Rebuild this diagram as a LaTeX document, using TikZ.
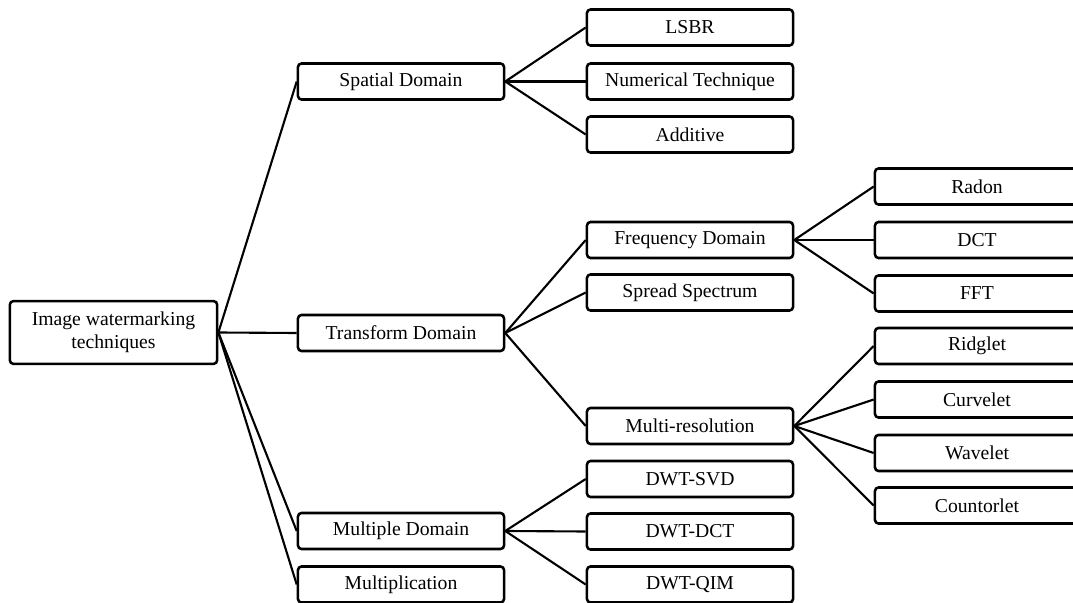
\documentclass[tikz,border=0pt]{standalone}
\usepackage{fontspec}
\setmainfont{Liberation Serif}
\tikzset{
  box/.style={draw, line width=1.8pt, rounded corners=2.5pt, fill=white,
    minimum width=5.15cm, minimum height=0.9cm, inner sep=0pt,
    font=\fontsize{14}{16.5}\selectfont, align=center},
  rootbox/.style={box, minimum width=5.18cm, minimum height=1.57cm},
  leafbox/.style={box, minimum width=5.1cm},
  link/.style={line width=1.5pt}
}
\begin{document}
\begin{tikzpicture}[x=0.025cm, y=-0.025cm]
    \useasboundingbox (0,0) rectangle (1073,603);
    % root
    \node[rootbox] (root) at (113.5,332.5) {Image watermarking\\techniques};
    % first level
    \node[box] (spatial) at (401,81.5) {Spatial Domain};
    \node[box] (transform) at (401,333) {Transform Domain};
    \node[box] (multiple) at (401,531) {Multiple Domain};
    \node[box] (multiplication) at (401,584.5) {Multiplication};
    % second level
    \node[box] (lsbr) at (690,27.5) {LSBR};
    \node[box] (numerical) at (690,81.5) {Numerical Technique};
    \node[box] (additive) at (690,134.5) {Additive};
    \node[box] (freq) at (690,240) {Frequency Domain};
    \node[box] (spread) at (690,292.5) {Spread Spectrum};
    \node[box] (multires) at (690,426) {Multi-resolution};
    \node[box] (dwtsvd) at (690,479) {DWT-SVD};
    \node[box] (dwtdct) at (690,531.5) {DWT-DCT};
    \node[box] (dwtqim) at (690,584.5) {DWT-QIM};
    % third level
    \node[leafbox] (radon) at (977,186.5) {Radon};
    \node[leafbox] (dct) at (977,240) {DCT};
    \node[leafbox] (fft) at (977,293.5) {FFT};
    \node[leafbox] (ridglet) at (977,346) {Ridglet};
    \node[leafbox] (curvelet) at (977,399.5) {Curvelet};
    \node[leafbox] (wavelet) at (977,453) {Wavelet};
    \node[leafbox] (countorlet) at (977,505.5) {Countorlet};
    % connectors
    \begin{scope}[link]
      \foreach \c in {spatial,transform,multiple,multiplication}
        \draw (root.east) -- (\c.west);
      \foreach \c in {lsbr,numerical,additive}
        \draw (spatial.east) -- (\c.west);
      \foreach \c in {freq,spread,multires}
        \draw (transform.east) -- (\c.west);
      \foreach \c in {dwtsvd,dwtdct,dwtqim}
        \draw (multiple.east) -- (\c.west);
      \foreach \c in {radon,dct,fft}
        \draw (freq.east) -- (\c.west);
      \foreach \c in {ridglet,curvelet,wavelet,countorlet}
        \draw (multires.east) -- (\c.west);
    \end{scope}
  \end{tikzpicture}
\end{document}
